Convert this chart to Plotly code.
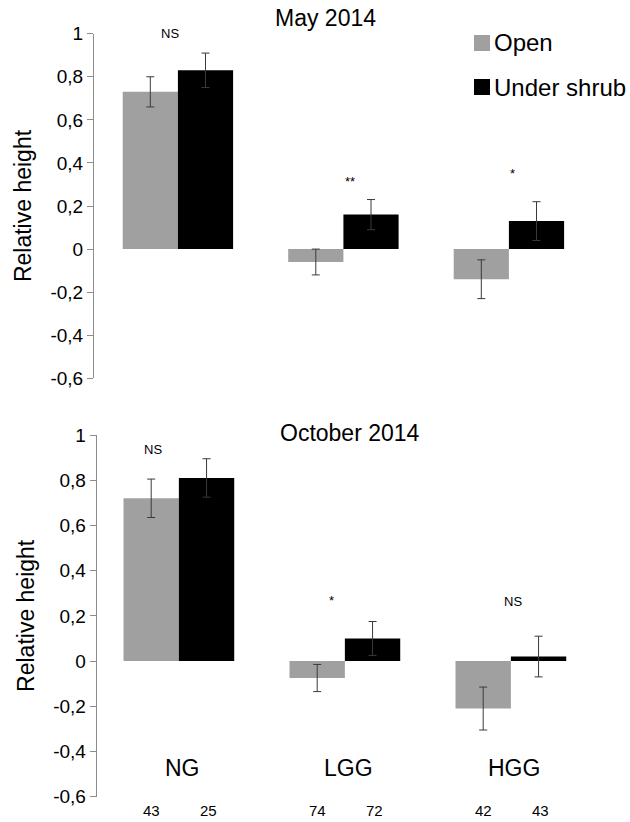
import plotly.graph_objects as go

groups = ["NG", "LGG", "HGG"]
series = ["Open", "Under shrub"]
colors = ["#a0a0a0", "#000000"]

# May 2014
may_open = [0.73, -0.06, -0.14]
may_open_err = [0.07, 0.06, 0.09]
may_shrub = [0.83, 0.16, 0.13]
may_shrub_err = [0.08, 0.07, 0.09]
may_sig = ["NS", "**", "*"]

# October 2014
oct_open = [0.72, -0.075, -0.21]
oct_open_err = [0.085, 0.06, 0.095]
oct_shrub = [0.81, 0.10, 0.02]
oct_shrub_err = [0.085, 0.075, 0.09]
oct_sig = ["NS", "*", "NS"]

n_open = [43, 74, 42]
n_shrub = [25, 72, 43]

tick_vals = [1, 0.8, 0.6, 0.4, 0.2, 0, -0.2, -0.4, -0.6]
tick_text = ["1", "0,8", "0,6", "0,4", "0,2", "0", "-0,2", "-0,4", "-0,6"]

FONT = "Liberation Sans, Arial, sans-serif"
xs = list(range(len(groups)))

fig = go.Figure()

def add_bars(vals, errs, idx, xa, ya):
    fig.add_trace(go.Bar(
        x=xs, y=vals, name=series[idx], marker_color=colors[idx],
        marker_line_width=0,
        error_y=dict(type="data", array=errs, color="#3a3a3a", thickness=1, width=4),
        xaxis=xa, yaxis=ya, showlegend=False,
    ))

add_bars(may_open, may_open_err, 0, "x", "y")
add_bars(may_shrub, may_shrub_err, 1, "x", "y")
add_bars(oct_open, oct_open_err, 0, "x2", "y2")
add_bars(oct_shrub, oct_shrub_err, 1, "x2", "y2")

ann = []
shapes = []
may_sig_pos = [(-0.05, 1.0), (0.04, 0.315), (0.02, 0.35)]
oct_sig_pos = [(-0.155, 0.935), (-0.08, 0.27), (0.014, 0.265)]
for i in xs:
    dx, yy = may_sig_pos[i]
    ann.append(dict(x=i + dx, y=yy, xref="x", yref="y", text=may_sig[i],
                    xanchor="center", yanchor="middle",
                    showarrow=False, font=dict(size=13, color="#000")))
    dx, yy = oct_sig_pos[i]
    ann.append(dict(x=i + dx, y=yy, xref="x2", yref="y2", text=oct_sig[i],
                    xanchor="center", yanchor="middle",
                    showarrow=False, font=dict(size=13, color="#000")))
    ann.append(dict(x=i + 0.02, y=-0.475, xref="x2", yref="y2", text=groups[i],
                    xanchor="center", yanchor="middle",
                    showarrow=False, font=dict(size=23, color="#000")))
    ann.append(dict(x=i - 0.167, y=1 - 810 / 822, xref="x2", yref="paper", text=str(n_open[i]),
                    xanchor="center", yanchor="middle",
                    showarrow=False, font=dict(size=15, color="#000")))
    ann.append(dict(x=i + 0.18, y=1 - 810 / 822, xref="x2", yref="paper", text=str(n_shrub[i]),
                    xanchor="center", yanchor="middle",
                    showarrow=False, font=dict(size=15, color="#000")))

ann.append(dict(x=325 / 630, y=1 - 18 / 822, xref="paper", yref="paper", text="May 2014",
                xanchor="center", yanchor="middle",
                showarrow=False, font=dict(size=23, color="#000")))
ann.append(dict(x=350 / 630, y=1 - 433 / 822, xref="paper", yref="paper", text="October 2014",
                xanchor="center", yanchor="middle",
                showarrow=False, font=dict(size=23, color="#000")))

# manual legend
leg_rows = [43, 87]
for k in range(len(series)):
    yc = leg_rows[k]
    shapes.append(dict(type="rect", xref="paper", yref="paper",
                       x0=474 / 630, x1=490 / 630,
                       y0=1 - (yc + 8) / 822, y1=1 - (yc - 8) / 822,
                       fillcolor=colors[k], line_width=0))
    ann.append(dict(x=492 / 630, y=1 - yc / 822, xref="paper", yref="paper",
                    xanchor="left", yanchor="middle", text=series[k],
                    showarrow=False, font=dict(size=24, color="#000")))

yaxis_common = dict(
    range=[-0.6, 1], tickvals=tick_vals, ticktext=tick_text,
    showline=True, linecolor="#8c8c8c", linewidth=1,
    ticks="outside", tickcolor="#8c8c8c", ticklen=6, tickwidth=1,
    showgrid=False, zeroline=False, automargin=False,
    tickfont=dict(size=19, color="#000"),
    title=dict(text="Relative height", font=dict(size=23, color="#000"), standoff=12),
)
xaxis_common = dict(showline=False, showticklabels=False, ticks="", showgrid=False,
                    zeroline=False, automargin=False)

fig.update_layout(
    width=630, height=822,
    margin=dict(l=0, r=0, t=0, b=0),
    paper_bgcolor="white", plot_bgcolor="white",
    font=dict(family=FONT, color="#000"),
    barmode="group", bargap=0.333, bargroupgap=0,
    showlegend=False,
    xaxis=dict(domain=[94 / 630, (94 + 3.014 * 165.5) / 630], range=[-0.507, 2.507], **xaxis_common),
    yaxis=dict(domain=[1 - 378.3 / 822, 1 - 33.7 / 822], anchor="x", **yaxis_common),
    xaxis2=dict(domain=[96.7 / 630, (96.7 + 3.0 * 166) / 630], range=[-0.495, 2.505], anchor="y2", **xaxis_common),
    yaxis2=dict(domain=[1 - 796.7 / 822, 1 - 435 / 822], anchor="x2", **yaxis_common),
    annotations=ann,
    shapes=shapes,
)

fig.write_html("out.html", config={"displayModeBar": False},
               post_script="document.body.style.margin='0';document.body.style.overflow='hidden';")
